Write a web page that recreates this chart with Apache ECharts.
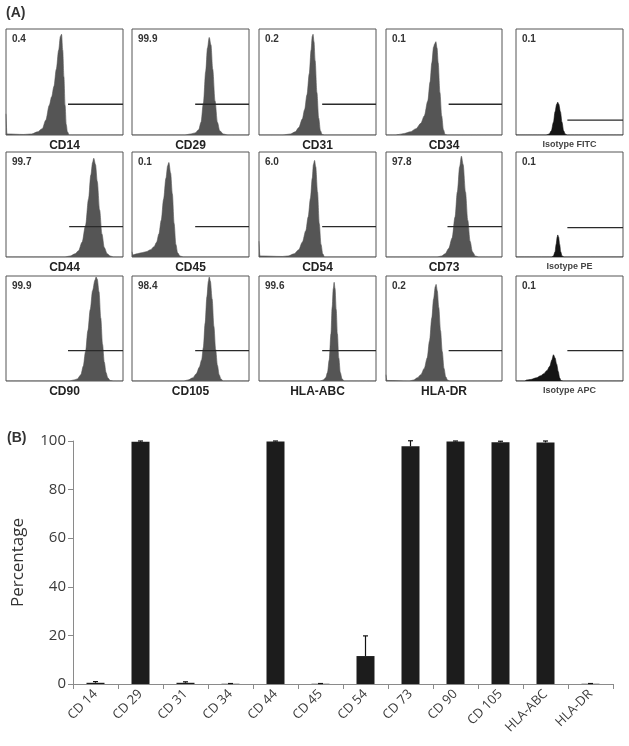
<!DOCTYPE html>
<html><head><meta charset="utf-8">
<script src="https://cdn.jsdelivr.net/npm/echarts@6/dist/echarts.min.js"></script>
<style>html,body{margin:0;padding:0;background:#fff}#c{width:629px;height:746px}</style>
</head><body><div id="c"></div>
<script>
// ---------- Panel A: flow cytometry histograms (x: % of box width, y: % of box height) ----------
const histNames = ['CD14','CD29','CD31','CD34','Isotype FITC',
                   'CD44','CD45','CD54','CD73','Isotype PE',
                   'CD90','CD105','HLA-ABC','HLA-DR','Isotype APC'];
const histPct = ['0.4','99.9','0.2','0.1','0.1',
                 '99.7','0.1','6.0','97.8','0.1',
                 '99.9','98.4','99.6','0.2','0.1'];
const isIsotype = [false,false,false,false,true,false,false,false,false,true,false,false,false,false,true];

const histCD14 = [[0,20],[0.8,1],[15,0.5],[22,1],[27,3],[31,6],[34,14],[37,28],[39,36],[41,46],[43,62],[45,80],[46.5,93],[47.5,95],[48.5,80],[49.5,55],[50.5,28],[51.5,10],[52.5,3],[54,0],[100,0]];
const histCD29 = [[0,0],[45,0],[50,1],[54,2],[57,5],[59,12],[61,30],[63,60],[64.5,82],[66,92],[67.5,85],[69,62],[71,32],[73,12],[75,4],[78,1],[82,0],[100,0]];
const histCD31 = [[0,0],[20,0],[27,1],[31,3],[34,7],[37,15],[39,24],[41,38],[43,58],[44.5,80],[45.5,93],[46.2,95],[47,88],[48,70],[49.5,40],[51,16],[52.5,4],[54,0.5],[56,0],[100,0]];
const histCD34 = [[0,0],[8,0],[11,0.5],[16,1.5],[21,3],[26,6],[30,11],[33,18],[36,32],[38,50],[39.5,68],[41,83],[42,86],[43,88],[44,82],[45,68],[46.5,40],[48,18],[49.5,5],[51,0.5],[53,0],[100,0]];
const histFITC = [[0,0],[28,0],[31,1],[33,4],[35,12],[36.5,22],[38,29],[39,31],[40,29],[41.5,22],[43,12],[44.5,4],[46,1],[48,0],[100,0]];
const histCD44 = [[0,0],[50,0],[55,1],[59,3],[62,6],[65,14],[68,30],[70.5,55],[72.5,78],[74,90],[75,94],[76.5,88],[78,72],[80,45],[82,22],[84,9],[86.5,3],[89,1],[92,0],[100,0]];
const histCD45 = [[0,5],[0.8,2],[4,3],[8,4],[12,5],[16,7],[19,10],[21,14],[23,22],[25,35],[27,55],[29,75],[30.5,87],[31.5,90],[33,80],[34.5,60],[36,32],[37.5,12],[39,4],[41,1],[44,0],[100,0]];
const histCD54 = [[0,15],[0.8,1],[20,0.5],[25,1],[30,3],[34,7],[37,14],[40,25],[42,38],[44,56],[45.5,75],[46.5,88],[47.5,92],[48.5,86],[50,62],[51.5,32],[53,12],[54.5,3],[56,0],[100,0]];
const histCD73 = [[0,0],[44,0],[48,1],[51,3],[54,8],[57,18],[59.5,38],[61.5,62],[63.5,86],[65,96],[66.5,88],[68.5,62],[70.5,35],[72.5,15],[74.5,5],[77,1],[80,0],[100,0]];
const histPE   = [[0,0],[33,0],[35,1],[36.5,5],[37.5,12],[38.5,19],[39,21],[39.8,19],[40.8,12],[41.8,5],[43,1],[45,0],[100,0]];
const histCD90 = [[0,0],[54,0],[58,1],[61,2],[64,6],[66,14],[68,28],[70,48],[72,68],[74,86],[76,96],[77,99],[78,97],[79.5,85],[81,60],[82.5,35],[84,18],[85.5,8],[87,3],[89,0.5],[92,0],[100,0]];
const histCD105 = [[0,0],[44,0],[48,1],[52,3],[55,7],[57.5,13],[59.5,20],[61,32],[62.5,55],[64,80],[65.3,95],[66,99],[67,95],[68.5,78],[70,52],[71.5,30],[73,15],[74.5,6],[76,2],[78,0],[100,0]];
const histHLAABC = [[0,0],[52,0],[55,1],[57,3],[58.5,8],[60,20],[61.5,45],[62.5,70],[63.5,88],[64.2,94],[65,88],[66,68],[67,45],[68.2,22],[69.5,8],[71,2],[73,0],[100,0]];
const histHLADR = [[0,6],[0.8,0.5],[20,0],[24,1],[27,3],[30,6],[33,12],[35.5,22],[37.5,38],[39.5,60],[41,78],[42.5,90],[43.2,92],[44.2,86],[45.5,70],[47,48],[48.5,28],[50,12],[51.5,4],[53,1],[55,0],[100,0]];
const histAPC  = [[0,0],[8,0],[10,1],[14,1.5],[19,3],[23,5],[26,7],[29,10],[31.5,14],[33.5,20],[35,25],[36.5,22],[38,16],[39.5,9],[40.8,3],[42,0.5],[44,0],[100,0]];

const gateStart = [53,54,54,54,48, 54,54,54,53,48, 53,54,54,54,48];
const gateLevel = [29,29,29,29,14, 29,29,29,29,28, 29,29,29,29,29];

// ---------- Panel B: bar chart ----------
const barCategories = ['CD 14','CD 29','CD 31','CD 34','CD 44','CD 45','CD 54','CD 73','CD 90','CD 105','HLA-ABC','HLA-DR'];
const barValues = [0.5, 99.7, 0.5, 0.1, 99.8, 0.1, 11.5, 97.8, 99.8, 99.5, 99.4, 0.1];
const barErrors = [0.5, 0.3, 0.4, 0.1, 0.2, 0.1, 8.3, 2.3, 0.2, 0.4, 0.6, 0.1];
const yTicksB = [0, 20, 40, 60, 80, 100];

const histData = [histCD14,histCD29,histCD31,histCD34,histFITC,
                  histCD44,histCD45,histCD54,histCD73,histPE,
                  histCD90,histCD105,histHLAABC,histHLADR,histAPC];

// layout
const colLeft = [6,132,259,386,516];
const colWidth = [117,117,117,116,107];
const rowTop = [29,152,276];
const rowHeight = [106,105,105];

const grids=[], xAxes=[], yAxes=[], series=[], titles=[];
titles.push({text:'(A)', left:6, top:6, padding:0, textStyle:{fontSize:14, fontWeight:'bold', color:'#333', fontFamily:'Liberation Sans'}});
titles.push({text:'(B)', left:7, top:431, padding:0, textStyle:{fontSize:14, fontWeight:'bold', color:'#333', fontFamily:'Liberation Sans'}});

for (let i=0;i<15;i++){
  const r=Math.floor(i/5), c=i%5;
  grids.push({left:colLeft[c], top:rowTop[r], width:colWidth[c], height:rowHeight[r], show:true,
    borderColor:'#555', borderWidth:1, backgroundColor:'#fff', outerBoundsMode:'none', containLabel:false});
  xAxes.push({gridIndex:i, type:'value', min:0, max:100,
    axisLine:{show:false}, axisTick:{show:false}, axisLabel:{show:false}, splitLine:{show:false},
    name:histNames[i], nameLocation:'middle', nameGap:5,
    nameTextStyle: isIsotype[i]
      ? {fontSize:9, fontWeight:'bold', color:'#444', fontFamily:'Liberation Sans'}
      : {fontSize:12, fontWeight:'bold', color:'#222', fontFamily:'Liberation Sans'}});
  yAxes.push({gridIndex:i, type:'value', min:0, max:100, show:false});
  const col = isIsotype[i] ? '#151515' : '#555';
  series.push({type:'line', xAxisIndex:i, yAxisIndex:i, data:histData[i], symbol:'none',
    smooth:0.3, smoothMonotone:'x', lineStyle:{color:col, width:0.6},
    areaStyle:{color:col, opacity:1}, silent:true, animation:false});
  series.push({type:'line', xAxisIndex:i, yAxisIndex:i, data:[[gateStart[i],gateLevel[i]],[100,gateLevel[i]]],
    symbol:'none', lineStyle:{color:'#2a2a2a', width:1.3}, z:5, silent:true, animation:false});
  titles.push({text:histPct[i], left:colLeft[c]+6, top:rowTop[r]+5, padding:0,
    textStyle:{fontSize:10, fontWeight:'bold', color:'#333', fontFamily:'Liberation Sans'}});
}

// bar chart grid
grids.push({left:73, right:16, top:441, bottom:62, outerBoundsMode:'none', containLabel:false});
xAxes.push({gridIndex:15, type:'category', data:barCategories,
  axisLine:{show:true, lineStyle:{color:'#8a8a8a', width:1}},
  axisTick:{show:true, length:5, lineStyle:{color:'#8a8a8a'}},
  axisLabel:{interval:0, rotate:45, fontSize:13, color:'#3a3a3a', fontFamily:'Open Sans', margin:8},
  splitLine:{show:false}});
yAxes.push({gridIndex:15, type:'value', min:yTicksB[0], max:yTicksB[yTicksB.length-1], interval:20,
  axisLine:{show:true, lineStyle:{color:'#8a8a8a', width:1}},
  axisTick:{show:true, length:5, lineStyle:{color:'#8a8a8a'}},
  axisLabel:{fontSize:15, color:'#3a3a3a', fontFamily:'Open Sans', margin:7},
  splitLine:{show:false},
  name:'Percentage', nameLocation:'middle', nameGap:46,
  nameTextStyle:{fontSize:17, color:'#333', fontFamily:'Open Sans'}});
series.push({type:'bar', xAxisIndex:15, yAxisIndex:15, data:barValues, barWidth:18,
  itemStyle:{color:'#1c1c1c'}, animation:false});
series.push({type:'custom', xAxisIndex:15, yAxisIndex:15, clip:false, z:10, animation:false,
  data: barValues.map((v,i)=>[i, v, barErrors[i]]),
  renderItem:function(params, api){
    const x=api.value(0), v=api.value(1), e=api.value(2);
    const top=api.coord([x, v+e]), base=api.coord([x, v]);
    return {type:'group', children:[
      {type:'line', shape:{x1:top[0], y1:top[1], x2:base[0], y2:base[1]}, style:{stroke:'#111', lineWidth:1.2}},
      {type:'line', shape:{x1:top[0]-2.5, y1:top[1], x2:top[0]+2.5, y2:top[1]}, style:{stroke:'#111', lineWidth:1.2}}
    ]};
  }});

const chart = echarts.init(document.getElementById('c'), null, {renderer:'canvas'});
chart.setOption({backgroundColor:'#fff', animation:false, title:titles, grid:grids, xAxis:xAxes, yAxis:yAxes, series:series});
</script></body></html>
